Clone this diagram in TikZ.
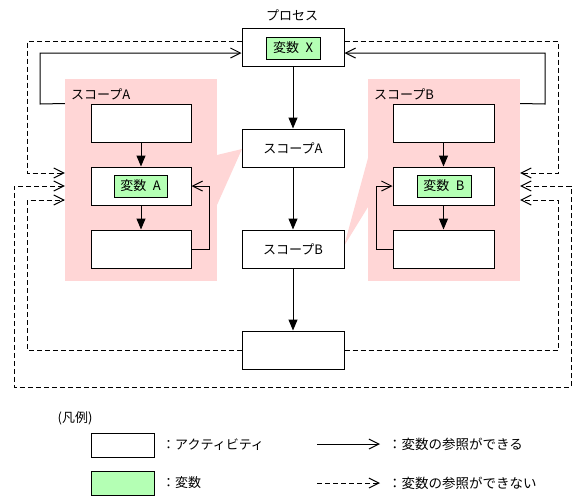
\documentclass[tikz,border=0pt]{standalone}
\usepackage{fontspec}
\setmainfont{Noto Sans CJK JP}
\usetikzlibrary{arrows.meta,calc}
\definecolor{vargreen}{RGB}{180,255,180}
\definecolor{scopepink}{RGB}{255,214,214}
\tikzset{openV/.tip={Straight Barb[length=10pt,width=10pt]}}
\begin{document}
\begin{tikzpicture}[x=1pt,y=-1pt,
 font=\fontsize{13}{15}\selectfont,
 act/.style={draw,fill=white,line width=1pt,minimum width=102pt,minimum height=38pt,inner sep=0pt},
 var/.style={draw,fill=vargreen,line width=1pt,minimum width=54pt,minimum height=22pt,inner sep=0pt},
 region/.style={fill=scopepink,minimum width=152pt,minimum height=202pt,inner sep=0pt},
 flow/.style={line width=1pt,-{Triangle[length=11pt,width=9pt]}},
 ref/.style={line width=1pt,-openV},
 nref/.style={ref,dash pattern=on 5pt off 3pt},
 lbl/.style={inner sep=0pt}]
\useasboundingbox (0,0) rectangle (585,499);

% scope regions and callouts
\node[region] (RA) at (141,180) {};
\node[region] (RB) at (444,180) {};
\fill[scopepink] (217,155) -- (242,149) -- (217,205) -- cycle;
\fill[scopepink] (368,158) -- (344,246) -- (368,207) -- cycle;
\node[lbl,anchor=west] (RAlbl) at (71,94) {スコープA};
\node[lbl,anchor=west] (RBlbl) at (374,94) {スコープB};

% central column
\node[lbl] (proclbl) at (292,15) {プロセス};
\node[act] (proc) at (293,47) {};
\node[var] (varX) at (293,48) {変数\enspace X};
\node[act] (sA) at (293,148) {スコープA};
\node[act] (sB) at (293,249) {スコープB};
\node[act] (fin) at (293,350) {};

% scope A activities
\node[act,minimum width=100pt] (a1) at (141,123) {};
\node[act,minimum width=100pt] (a2) at (141,186) {};
\node[var,minimum width=53pt] (varA) at (140.5,186) {変数\enspace A};
\node[act,minimum width=100pt] (a3) at (141,249) {};

% scope B activities
\node[act,minimum width=101pt] (b1) at (443.5,123) {};
\node[act,minimum width=101pt] (b2) at (443.5,186) {};
\node[var] (varB) at (444,186) {変数\enspace B};
\node[act,minimum width=101pt] (b3) at (443.5,249) {};

% control flow
\draw[flow] (proc) -- (sA);
\draw[flow] (sA) -- (sB);
\draw[flow] (sB) -- (fin);
\draw[flow] (a1) -- (a2);
\draw[flow] (a2) -- (a3);
\draw[flow] (b1) -- (b2);
\draw[flow] (b2) -- (b3);

% references allowed
\draw[ref] (RA.west |- a1.north) -- (40,104) -- (40,53) -- ($(proc.west)+(0,6)$);
\draw[ref] (RB.east |- b1.north) -- (545,104) -- (545,53) -- ($(proc.east)+(0,6)$);
\draw[ref] (a3.east) -- (209,249) -- (209,186) -- (a2.east);
\draw[ref] (b3.west) -- (376,249) -- (376,186) -- (b2.west);

% references not allowed
\draw[nref] ($(proc.west)+(0,-6)$) -- (27,41) -- (27,173) -- ($(RA.west)+(0,-7)$);
\draw[nref] ($(proc.east)+(0,-6)$) -- (558,41) -- (558,173) -- ($(RB.east)+(0,-7)$);
\draw[nref,openV-openV] ($(RA.west)+(0,6)$) -- (14,186) -- (14,387) -- (571,387) -- (571,186) -- ($(RB.east)+(0,6)$);
\draw[nref] (fin.west) -- (27,350) -- (27,200) -- ($(RA.west)+(0,20)$);
\draw[nref] (fin.east) -- (558,350) -- (558,200) -- ($(RB.east)+(0,20)$);

% legend
\node[lbl] (leg) at (75,418) {(凡例)};
\node[act,minimum width=63pt,minimum height=24pt] (legA) at (122.5,445) {};
\node[lbl,anchor=west] (legAt) at (162,445) {：アクティビティ};
\node[var,minimum width=63pt,minimum height=24pt] (legV) at (122.5,483) {};
\node[lbl,anchor=west] (legVt) at (162,483) {：変数};
\coordinate (l1s) at (317,444);
\coordinate (l1e) at (380,444);
\coordinate (l2s) at (317,483);
\coordinate (l2e) at (380,483);
\draw[ref] (l1s) -- (l1e);
\node[lbl,anchor=west,font=\fontsize{13.5}{15}\selectfont] (l1t) at (388,444) {：変数の参照ができる};
\draw[nref] (l2s) -- (l2e);
\node[lbl,anchor=west,font=\fontsize{13.5}{15}\selectfont] (l2t) at (388,483) {：変数の参照ができない};
\end{tikzpicture}
\end{document}
